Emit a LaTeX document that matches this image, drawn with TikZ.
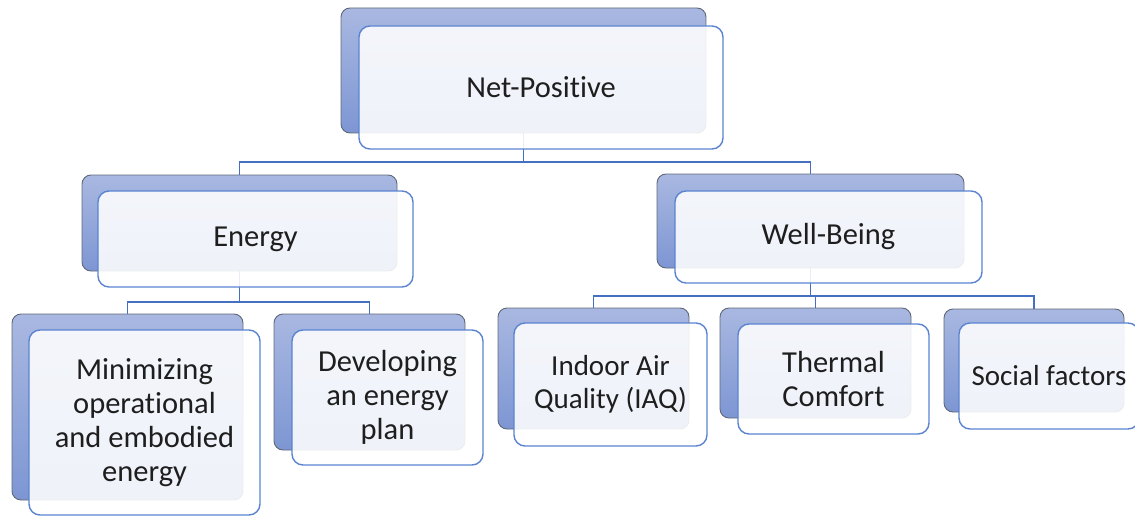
\documentclass[tikz,border=0pt]{standalone}
\usepackage{fontspec}
\setmainfont{Carlito}[RawFeature={-liga;-clig;-calt;-dlig}]
\usetikzlibrary{calc}

\definecolor{linkblue}{HTML}{4470C2}
\definecolor{edgeblue}{HTML}{5A83D0}
\definecolor{backtop}{HTML}{A9B8E1}
\definecolor{backbot}{HTML}{7D96D3}
\definecolor{backedge}{HTML}{5F6878}
\definecolor{inktext}{HTML}{1E1E1E}

\tikzset{
  backbox/.style={draw=backedge, line width=0.9pt, rounded corners=9pt,
    top color=backtop, bottom color=backbot, inner sep=0pt},
  frontbox/.style={draw=edgeblue, line width=1.4pt, rounded corners=11pt,
    fill=white, fill opacity=0.88, text opacity=1, inner sep=0pt,
    text=inktext, align=center, font=\fontsize{30.5}{34}\selectfont},
  smalltext/.style={font=\fontsize{29}{33}\selectfont},
  conn/.style={draw=linkblue, line width=1.8pt},
}

\begin{document}
\begin{tikzpicture}[x=1pt,y=-1pt]
\useasboundingbox (0,0) rectangle (1135,516);

% back plates
\node[backbox, minimum width=365, minimum height=125] (npB) at (523.5,70.5) {};
\node[backbox, minimum width=315, minimum height=96]  (enB) at (239.5,223) {};
\node[backbox, minimum width=307, minimum height=94]  (wbB) at (810.5,221) {};
\node[backbox, minimum width=231, minimum height=186] (miB) at (127.5,407) {};
\node[backbox, minimum width=191, minimum height=136] (dvB) at (369.5,382) {};
\node[backbox, minimum width=191, minimum height=121] (iaB) at (593.5,368.5) {};
\node[backbox, minimum width=191, minimum height=110] (thB) at (815.5,363) {};
\node[backbox, minimum width=180, minimum height=103] (soB) at (1034,360.5) {};

% bus levels of the tree
\coordinate (busTop)  at (0,162);
\coordinate (busEn)   at (0,302);
\coordinate (busWb)   at (0,296);

% connectors
\draw[conn] (npB.south) |- (enB.north |- busTop) -- (enB.north);
\draw[conn] (npB.south) |- (wbB.north |- busTop) -- (wbB.north);
\draw[conn] (enB.south) |- (miB.north |- busEn) -- (miB.north);
\draw[conn] (enB.south) |- (dvB.north |- busEn) -- (dvB.north);
\draw[conn] (wbB.south) |- (iaB.north |- busWb) -- (iaB.north);
\draw[conn] (wbB.south) |- (thB.north |- busWb) -- (thB.north);
\draw[conn] (wbB.south) |- (soB.north |- busWb) -- (soB.north);

% front cards with labels
\node[frontbox, minimum width=364, minimum height=123] (np) at (541,87.5) {Net-Positive};
\node[frontbox, minimum width=315, minimum height=96]  (en) at (255.5,239) {Energy};
\node[frontbox, minimum width=307, minimum height=92]  (wb) at (828.5,237) {Well-Being};
\node[frontbox, minimum width=231, minimum height=185] (mi) at (144.5,422.5)
  {Minimizing\\operational\\and embodied\\energy};
\node[frontbox, minimum width=191, minimum height=135] (dv) at (387.5,397.5)
  {Developing\\an energy\\plan};
\node[frontbox, smalltext, minimum width=193, minimum height=123] (ia) at (610.5,384.5)
  {Indoor Air\\Quality (IAQ)};
\node[frontbox, minimum width=191, minimum height=110] (th) at (833.5,379)
  {Thermal\\Comfort};
\node[frontbox, smalltext, minimum width=180, minimum height=106] (so) at (1049,376)
  {Social factors};
\end{tikzpicture}
\end{document}
